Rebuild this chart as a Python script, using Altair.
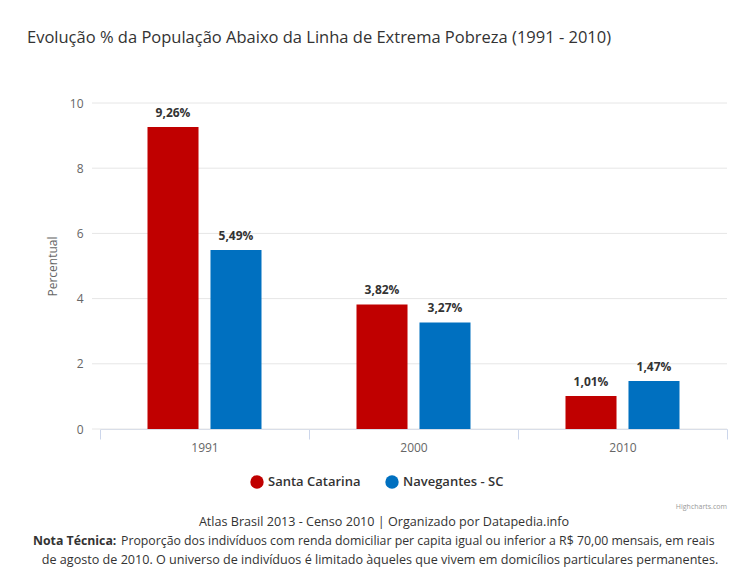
import altair as alt
import pandas as pd

years = ["1991", "2000", "2010"]
series = ["Santa Catarina", "Navegantes - SC"]
santa_catarina = [9.26, 3.82, 1.01]
navegantes = [5.49, 3.27, 1.47]
colors = ["#C00000", "#0070C0"]
y_ticks = [0, 2, 4, 6, 8, 10]

title_text = "Evolução % da População Abaixo da Linha de Extrema Pobreza (1991 - 2010)"
caption1 = "Atlas Brasil 2013 - Censo 2010 | Organizado por Datapedia.info"
caption2_bold = "Nota Técnica:"
caption2 = "Proporção dos indivíduos com renda domiciliar per capita igual ou inferior a R$ 70,00 mensais, em reais"
caption3 = "de agosto de 2010. O universo de indivíduos é limitado àqueles que vivem em domicílios particulares permanentes."
credits = "Highcharts.com"

rows = []
for i, y in enumerate(years):
    rows.append({"ano": y, "serie": series[0], "valor": santa_catarina[i]})
    rows.append({"ano": y, "serie": series[1], "valor": navegantes[i]})
df = pd.DataFrame(rows)

W, H = 627, 326
FONT = "Open Sans"

grid = alt.Chart(pd.DataFrame({"t": y_ticks})).mark_rule(color="#e6e6e6", strokeWidth=1).encode(
    y=alt.Y("t:Q", scale=alt.Scale(domain=[0, 10])),
    x=alt.value(-8),
    x2=alt.value(W),
)

base = alt.Chart(df).encode(
    x=alt.X("ano:N", sort=years, scale=alt.Scale(paddingInner=0, paddingOuter=0),
            axis=alt.Axis(title=None, labelAngle=0, labelColor="#666666", labelFontSize=12,
                          labelFont=FONT, tickBand="extent", tickSize=10, tickColor="#ccd6eb",
                          domainColor="#ccd6eb", labelPadding=3)),
    xOffset=alt.XOffset("serie:N", sort=series,
                        scale=alt.Scale(paddingInner=0.19, paddingOuter=0.754)),
)

bars = base.mark_bar().encode(
    y=alt.Y("valor:Q", scale=alt.Scale(domain=[0, 10]),
            axis=alt.Axis(values=y_ticks, grid=False, domain=False, ticks=False,
                          labelColor="#666666", labelFontSize=12, labelFont=FONT,
                          labelPadding=17, title="Percentual", titleColor="#666666",
                          titleFontSize=12, titleFont=FONT, titleFontWeight="normal",
                          titlePadding=10)),
    color=alt.Color("serie:N", sort=series,
                    scale=alt.Scale(domain=series, range=colors),
                    legend=alt.Legend(title=None, orient="none", legendX=150, legendY=372,
                                      direction="horizontal", symbolType="circle",
                                      symbolSize=180, labelFontSize=13, labelFontWeight=600,
                                      labelColor="#333333", labelFont=FONT, columnPadding=24,
                                      symbolStrokeWidth=0)),
)

labels = base.mark_text(baseline="bottom", dy=-7, fontSize=12, fontWeight="bold",
                        color="#333333", font=FONT).transform_calculate(
    lbl="replace(format(datum.valor, '.2f'), '.', ',') + '%'"
).encode(
    y=alt.Y("valor:Q", scale=alt.Scale(domain=[0, 10])),
    text="lbl:N",
)

def txt(s, x, y, align="left", weight="normal", size=12.6, color="#333333"):
    return alt.Chart(alt.InlineData(values=[{"t": s}])).mark_text(
        align=align, baseline="middle", fontSize=size, fontWeight=weight, color=color, font=FONT
    ).encode(text="t:N", x=alt.value(x), y=alt.value(y))

cap = [
    txt(credits, W, 404, align="right", size=7, color="#999999"),
    txt(caption1, 284, 419, align="center"),
    txt(caption2_bold, -67, 438, weight="bold", size=12.3),
    txt(caption2, 21, 438, size=12.3),
    txt(caption3, 280, 457, align="center"),
]

chart = alt.layer(grid, bars, labels, *cap).properties(
    width=W, height=H,
    autosize=alt.AutoSizeParams(type="none"),
    padding={"left": 92, "top": 95, "right": 16, "bottom": 145},
    title=alt.TitleParams(title_text, anchor="start", frame="group", dx=-73, offset=51,
                          fontSize=16.5, fontWeight="normal", color="#333333", font=FONT),
).configure_view(stroke=None)

chart.save("out.html", embed_options={"renderer": "svg", "actions": False})
